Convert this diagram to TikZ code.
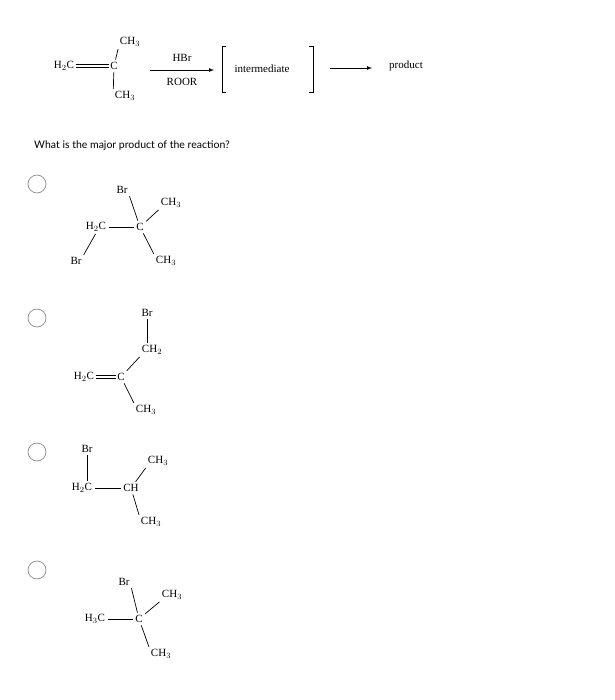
\documentclass[tikz,border=0pt]{standalone}
\usepackage{fontspec}
\setmainfont{Liberation Serif}
\newfontfamily\qfont{Lato}
\begin{document}
\begin{tikzpicture}[x=1pt,y=-1pt,
  atom/.style={inner sep=1.5pt,font=\fontsize{11}{13}\selectfont},
  bond/.style={line width=0.7pt,shorten <=1pt,shorten >=1pt},
  dbond/.style={double,double distance=2.2pt,line width=0.6pt},
  choice/.style={circle,draw=black!45,line width=0.7pt,minimum size=18pt,inner sep=0pt}]
\useasboundingbox (0,0) rectangle (614,700);
% reaction
\node[atom] (r1) at (64,66) {H$_2$C};
\node[atom] (r2) at (114,66) {C};
\node[atom] (r3) at (130,42) {CH$_3$};
\node[atom] (r4) at (125,96) {CH$_3$};
\draw[dbond] (r1) -- (r2);
\draw[bond] (r2) -- (r3.south west);
\draw[bond] (r2) -- (r4.north west);
\coordinate (a1) at (150,70);
\coordinate (a2) at (214,70);
\draw[line width=0.7pt,-latex] (a1) -- (a2);
\node[atom] (hbr) at (182,58) {HBr};
\node[atom] (roor) at (182,82) {ROOR};
\node[atom] (im) at (262,69) {intermediate};
\draw[line width=0.8pt] (226,46) -- (222,46) -- (222,92) -- (226,92);
\draw[line width=0.8pt] (309,46) -- (313,46) -- (313,92) -- (309,92);
\coordinate (b1) at (330,68);
\node[atom] (prod) at (406,66) {product};
\draw[line width=0.7pt,-latex] (b1) -- (372,68);
% question
\node[font=\qfont\fontsize{10.5}{12}\selectfont,inner sep=0pt] (q) at (132,146) {What is the major product of the reaction?};
\node[choice] (c1) at (37,184) {};
\node[choice] (c2) at (37,318) {};
\node[choice] (c3) at (37,452) {};
\node[choice] (c4) at (37,570) {};
% option 1
\node[atom] (p1a) at (96,227) {H$_2$C};
\node[atom] (p1b) at (140,227) {C};
\node[atom] (p1c) at (122,190) {Br};
\node[atom] (p1d) at (171,203) {CH$_3$};
\node[atom] (p1e) at (166,261) {CH$_3$};
\node[atom] (p1f) at (76,261) {Br};
\draw[bond] (p1a) -- (p1b);
\draw[bond] (p1b) -- (p1c.south east);
\draw[bond] (p1b) -- (p1d.south west);
\draw[bond] (p1b) -- (p1e.north west);
\draw[bond] (p1a.south) -- (p1f.north east);
% option 2
\node[atom] (p2a) at (147,313) {Br};
\node[atom] (p2b) at (152,350) {CH$_2$};
\node[atom] (p2c) at (84,377) {H$_2$C};
\node[atom] (p2d) at (121,377) {C};
\node[atom] (p2e) at (146,410) {CH$_3$};
\draw[bond] (p2a) -- (p2a |- p2b.north);
\draw[bond] (p2b.south west) -- (p2d);
\draw[dbond] (p2c) -- (p2d);
\draw[bond] (p2d) -- (p2e.north west);
% option 3
\node[atom] (p3a) at (87,449) {Br};
\node[atom] (p3b) at (82,488) {H$_2$C};
\node[atom] (p3c) at (131,488) {CH};
\node[atom] (p3d) at (158,461) {CH$_3$};
\node[atom] (p3e) at (151,522) {CH$_3$};
\draw[bond] (p3a) -- (p3a |- p3b.north);
\draw[bond] (p3b) -- (p3c);
\draw[bond] (p3c) -- (p3d.south west);
\draw[bond] (p3c) -- (p3e.north west);
% option 4
\node[atom] (p4a) at (95,619) {H$_3$C};
\node[atom] (p4b) at (139,619) {C};
\node[atom] (p4c) at (124,582) {Br};
\node[atom] (p4d) at (172,595) {CH$_3$};
\node[atom] (p4e) at (161,654) {CH$_3$};
\draw[bond] (p4a) -- (p4b);
\draw[bond] (p4b) -- (p4c.south east);
\draw[bond] (p4b) -- (p4d.south west);
\draw[bond] (p4b) -- (p4e.north west);
\end{tikzpicture}
\end{document}
